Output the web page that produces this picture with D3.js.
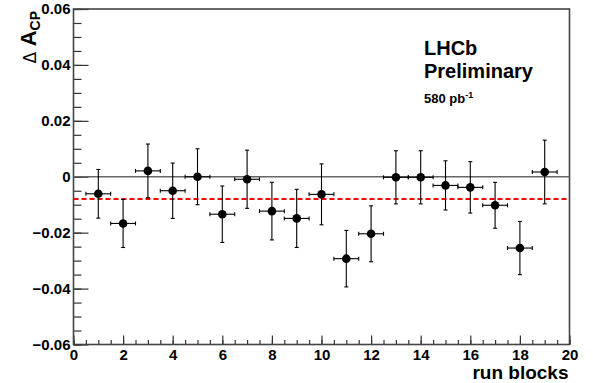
<!DOCTYPE html>
<html>
<head>
<meta charset="utf-8">
<script src="https://cdn.jsdelivr.net/npm/d3@7"></script>
<style>
  body { margin: 0; background: #fff; }
  svg { display: block; font-family: "Liberation Sans", Arial, sans-serif; }
  .tick text { font-weight: bold; }
</style>
</head>
<body>
<div id="main"></div>
<script>
const blocks = [1, 2, 3, 4, 5, 6, 7, 8, 9, 10, 11, 12, 13, 14, 15, 16, 17, 18, 19];
const dacp = [-0.0061, -0.0167, 0.0021, -0.0050, 0.0000, -0.0134, -0.0009, -0.0123, -0.0149, -0.0063,
              -0.0293, -0.0204, -0.0002, -0.0002, -0.0031, -0.0038, -0.0102, -0.0255, 0.0017];
const dacpErr = [0.0087, 0.0086, 0.0096, 0.0099, 0.0100, 0.0101, 0.0104, 0.0103, 0.0104, 0.0109,
                 0.0101, 0.0100, 0.0095, 0.0095, 0.0088, 0.0092, 0.0082, 0.0095, 0.0114];
const blockHalfWidth = 0.5;
const average = -0.008;
const xTicks = [0, 2, 4, 6, 8, 10, 12, 14, 16, 18, 20];
const yTicks = [-0.06, -0.04, -0.02, 0, 0.02, 0.04, 0.06];

const width = 593, height = 383;
const mLeft = 73.5, mRight = 569.5, mTop = 9, mBottom = 344.5;
const font = '"Liberation Sans", Arial, sans-serif';

const svg = d3.select('#main').append('svg')
    .attr('width', width)
    .attr('height', height);

const x = d3.scaleLinear().domain([0, 20]).range([mLeft, mRight]);
const y = d3.scaleLinear().domain([-0.06, 0.06]).range([mBottom, mTop]);

const fmtY = (d) => d === 0 ? '0' : d3.format('.2f')(d);

// minor ticks first
svg.append('g')
    .attr('transform', `translate(${mLeft},0)`)
    .call(d3.axisLeft(y).tickValues(d3.range(-0.06, 0.0601, 0.005)).tickSize(-8).tickSizeOuter(0).tickFormat(''))
    .call(g => g.select('.domain').remove());
svg.append('g')
    .attr('transform', `translate(0,${mBottom})`)
    .call(d3.axisBottom(x).tickValues(d3.range(0, 20.01, 0.5)).tickSize(-4.5).tickSizeOuter(0).tickFormat(''))
    .call(g => g.select('.domain').remove());

// major ticks + labels
const yAxis = svg.append('g')
    .attr('transform', `translate(${mLeft},0)`)
    .call(d3.axisLeft(y).tickValues(yTicks).tickSize(-15).tickSizeOuter(0).tickPadding(3).tickFormat(fmtY));
yAxis.select('.domain').remove();
yAxis.attr('font-family', font);
yAxis.selectAll('text').attr('font-size', 15).attr('fill', '#000');

const xAxis = svg.append('g')
    .attr('transform', `translate(0,${mBottom})`)
    .call(d3.axisBottom(x).tickValues(xTicks).tickSize(-9).tickSizeOuter(0).tickPadding(5).tickFormat(d3.format('d')));
xAxis.select('.domain').remove();
xAxis.attr('font-family', font);
xAxis.selectAll('text').attr('font-size', 15).attr('fill', '#000');

svg.selectAll('.tick line').attr('stroke', '#333').attr('stroke-width', 1.2);

// frame
svg.append('rect')
    .attr('x', mLeft).attr('y', mTop)
    .attr('width', mRight - mLeft).attr('height', mBottom - mTop)
    .attr('fill', 'none').attr('stroke', '#444').attr('stroke-width', 1.6);

// zero line and average
svg.append('line')
    .attr('x1', x(0)).attr('x2', x(20)).attr('y1', y(0)).attr('y2', y(0))
    .attr('stroke', '#666').attr('stroke-width', 1.3);
svg.append('line')
    .attr('x1', x(0)).attr('x2', x(20)).attr('y1', y(average)).attr('y2', y(average))
    .attr('stroke', '#f00').attr('stroke-width', 2).attr('stroke-dasharray', '5,3');

// points with error bars
const pts = blocks.map((b, i) => ({ b: b, v: dacp[i], e: dacpErr[i] }));
const cap = 2;
const gp = svg.append('g').attr('stroke', '#000').attr('stroke-width', 1.1);
pts.forEach((p) => {
    const cx = x(p.b), cy = y(p.v);
    const y1 = y(p.v + p.e), y2 = y(p.v - p.e);
    const x1 = x(p.b - blockHalfWidth), x2 = x(p.b + blockHalfWidth);
    gp.append('line').attr('x1', cx).attr('x2', cx).attr('y1', y1).attr('y2', y2);
    gp.append('line').attr('x1', x1).attr('x2', x2).attr('y1', cy).attr('y2', cy);
    gp.append('line').attr('x1', cx - cap).attr('x2', cx + cap).attr('y1', y1).attr('y2', y1);
    gp.append('line').attr('x1', cx - cap).attr('x2', cx + cap).attr('y1', y2).attr('y2', y2);
    gp.append('line').attr('x1', x1).attr('x2', x1).attr('y1', cy - cap).attr('y2', cy + cap);
    gp.append('line').attr('x1', x2).attr('x2', x2).attr('y1', cy - cap).attr('y2', cy + cap);
});
svg.append('g').selectAll('circle')
    .data(pts)
    .enter()
    .append('circle')
    .attr('cx', (d) => x(d.b))
    .attr('cy', (d) => y(d.v))
    .attr('r', 4.3)
    .attr('fill', '#000');

// axis titles
svg.append('text')
    .attr('x', mRight - 1).attr('y', 379)
    .attr('text-anchor', 'end')
    .attr('font-size', 19).attr('font-weight', 'bold')
    .text('run blocks');

const yt = svg.append('text')
    .attr('transform', `translate(36,${mTop + 2}) rotate(-90)`)
    .attr('text-anchor', 'end');
yt.append('tspan').attr('font-size', 17).attr('font-family', 'DejaVu Sans').text('Δ ');
yt.append('tspan').attr('font-size', 22).attr('font-weight', 'bold').text('A');
yt.append('tspan').attr('font-size', 14).attr('font-weight', 'bold').attr('dy', 4).text('CP');

// label
const lab = svg.append('g').attr('font-weight', 'bold');
lab.append('text').attr('x', 424).attr('y', 55).attr('font-size', 20).text('LHCb');
lab.append('text').attr('x', 424).attr('y', 77.5).attr('font-size', 20).text('Preliminary');
const lum = lab.append('text').attr('x', 424).attr('y', 103).attr('font-size', 13);
lum.append('tspan').text('580 pb');
lum.append('tspan').attr('font-size', 9).attr('dy', -5).text('-1');
</script>
</body>
</html>
